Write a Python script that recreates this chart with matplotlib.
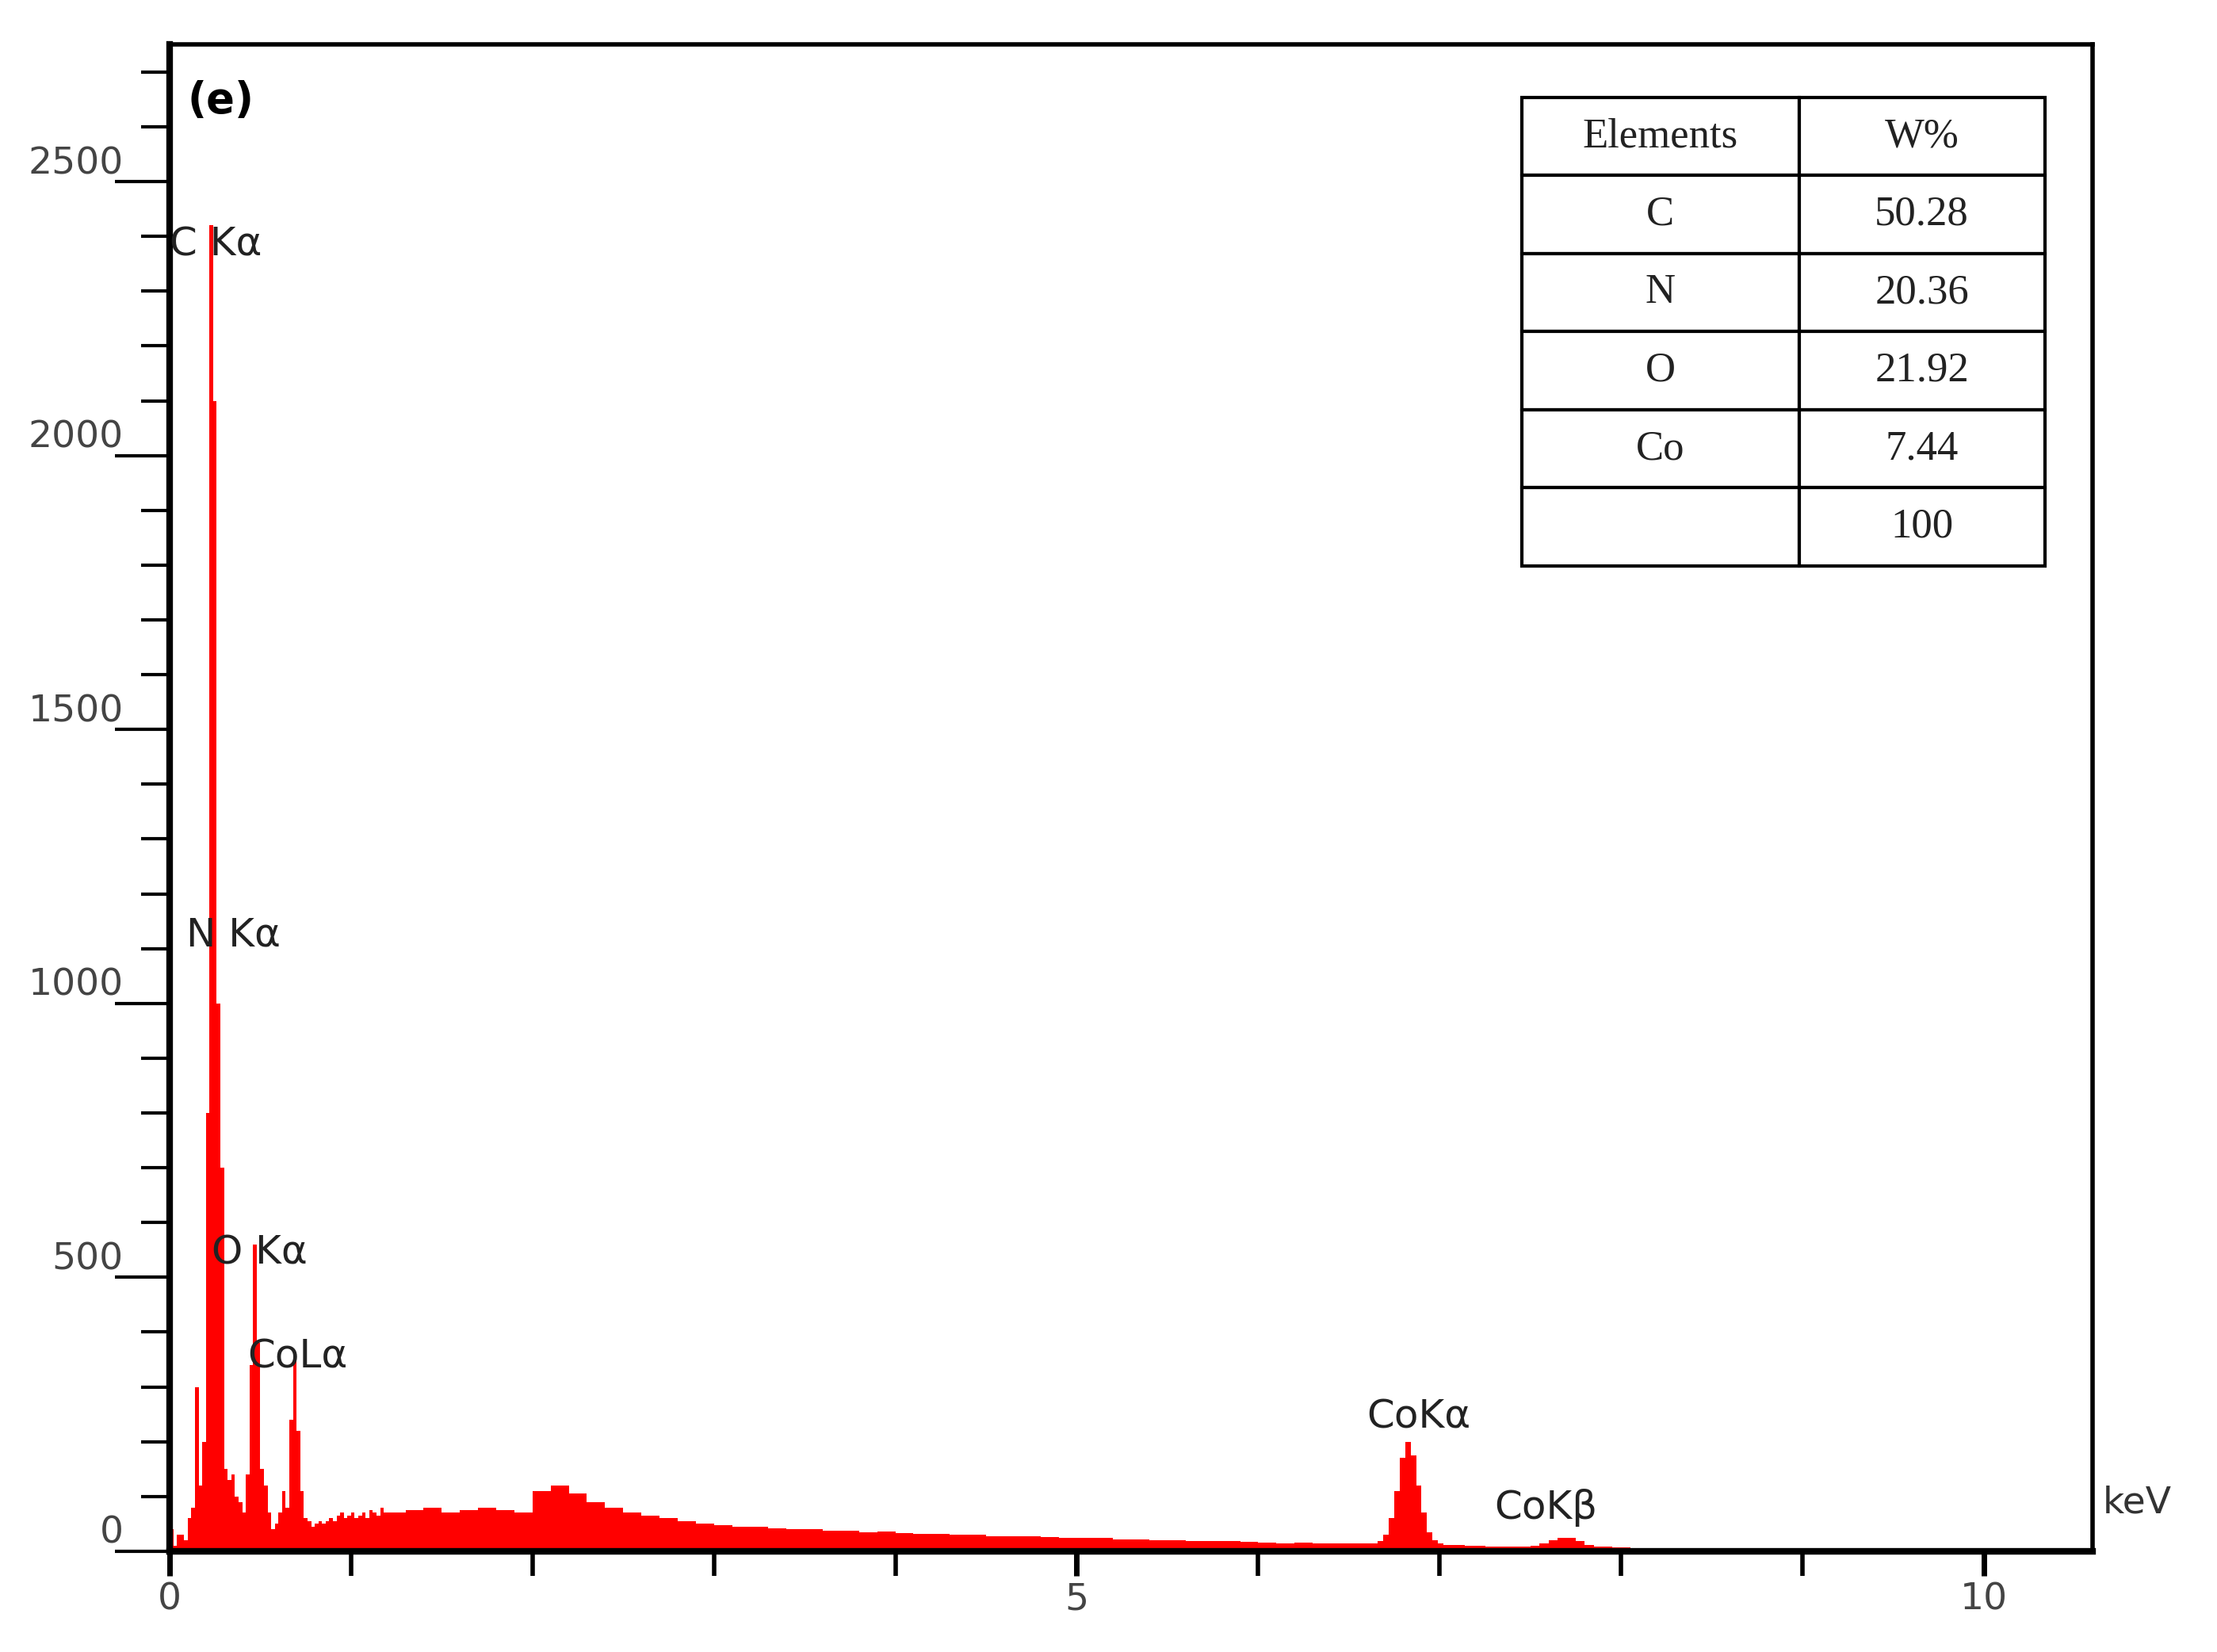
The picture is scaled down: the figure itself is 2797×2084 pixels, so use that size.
import numpy as np
import matplotlib
matplotlib.use("Agg")
import matplotlib.pyplot as plt
from matplotlib.ticker import MultipleLocator

# Low-energy channels (0.00 - 1.18 keV, 0.02 keV steps)
low_start, low_step = 0.0, 0.02
low_counts = [40, 10, 30, 30, 20, 60, 80, 300, 120, 200, 800, 2420, 2100, 1000, 700,
              150, 130, 140, 100, 90, 70, 140, 340, 560, 380, 150, 120, 70, 40, 50,
              70, 110, 80, 240, 360, 220, 110, 60, 55, 45, 50, 55, 50, 55, 60,
              55, 65, 70, 60, 65, 70, 60, 65, 70, 60, 75, 70, 65, 80, 70]
# Mid background (1.2 - 6.6 keV, 0.1 keV steps)
mid_start, mid_step = 1.2, 0.1
mid_counts = [70, 75, 80, 70, 75, 80, 75, 70, 110, 120, 105, 90, 80, 70, 65,
              60, 55, 50, 48, 45, 45, 42, 40, 40, 38, 38, 35, 36, 33, 32,
              32, 30, 30, 28, 27, 28, 26, 25, 24, 25, 22, 22, 20, 20, 19,
              18, 18, 17, 16, 15, 16, 15, 15, 14]
# Co K alpha region (6.6 - 7.2 keV, 0.03 keV steps)
coka_start, coka_step = 6.6, 0.03
coka_counts = [14, 15, 18, 30, 60, 110, 170, 200, 175, 120, 70, 35, 20, 14, 12, 12, 11, 11, 10, 10]
# Tail (7.2 - 10.6 keV, 0.05 keV steps)
tail_start, tail_step = 7.2, 0.05
tail_counts = [10, 9, 9, 8, 8, 9, 10, 14, 20, 25, 24, 18, 12, 9, 8, 7, 7, 6, 6, 6,
               5, 5, 6, 5, 5, 4, 5, 4, 4, 5, 4, 4, 3, 4, 3, 4, 3, 3, 4, 3,
               3, 3, 2, 3, 3, 2, 3, 2, 3, 2, 2, 3, 2, 2, 2, 2, 2, 2, 2, 2,
               2, 2, 2, 2, 2, 2, 2, 2]

peak_labels = ["C K\u03b1", "N K\u03b1", "O K\u03b1", "CoL\u03b1", "CoK\u03b1", "CoK\u03b2"]
peak_label_xy = [(0.0, 2350), (0.09, 1090), (0.23, 510), (0.43, 320), (6.6, 210), (7.3, 45)]

table_elements = ["C", "N", "O", "Co", ""]
table_wpct = ["50.28", "20.36", "21.92", "7.44", "100"]

def seg(start, step, counts):
    e = start + step * np.arange(len(counts) + 1)
    return e, np.array(counts + [counts[-1]], dtype=float)

fig = plt.figure(figsize=(27.97, 20.84), dpi=100)
ax = fig.add_axes([0.0765, 0.061, 0.8675, 0.912])
red = "#ff0000"
for s, st, c in [(low_start, low_step, low_counts), (mid_start, mid_step, mid_counts),
                 (coka_start, coka_step, coka_counts), (tail_start, tail_step, tail_counts)]:
    e, v = seg(s, st, c)
    ax.fill_between(e, 0, v, step="post", color=red, linewidth=0)

ax.set_xlim(0, 10.6)
ax.set_ylim(0, 2750)
ax.xaxis.set_major_locator(MultipleLocator(5))
ax.xaxis.set_minor_locator(MultipleLocator(1))
ax.yaxis.set_major_locator(MultipleLocator(500))
ax.yaxis.set_minor_locator(MultipleLocator(100))
ax.tick_params(axis="y", which="major", direction="out", length=50, width=3, labelsize=34,
               labelcolor="#444444", pad=-8)
ax.tick_params(axis="y", which="minor", direction="out", length=26, width=3)
ax.tick_params(axis="x", which="major", direction="out", length=22, width=5, labelsize=34,
               labelcolor="#444444", pad=6)
ax.tick_params(axis="x", which="minor", direction="out", length=22, width=4)
for lbl in ax.get_yticklabels():
    lbl.set_verticalalignment("bottom")
for side in ["left", "bottom"]:
    ax.spines[side].set_linewidth(6)
for side in ["top", "right"]:
    ax.spines[side].set_linewidth(4)

for t, (x, y) in zip(peak_labels, peak_label_xy):
    ax.text(x, y, t, fontsize=36, color="#222222", va="bottom", ha="left")
ax.text(0.1, 2610, "(e)", fontsize=38, fontweight="bold", va="bottom", ha="left")
ax.text(1.005, 0.02, "keV", transform=ax.transAxes, fontsize=34, color="#333333",
        va="bottom", ha="left")

# Table
cell_text = [["Elements", "W%"]] + [[a, b] for a, b in zip(table_elements, table_wpct)]
tb = ax.table(cellText=cell_text, cellLoc="center",
              bbox=[0.703, 0.654, 0.272, 0.311], colWidths=[0.53, 0.47])
tb.auto_set_font_size(False)
for (r, c), cell in tb.get_celld().items():
    cell.set_linewidth(3)
    cell.get_text().set_fontsize(38)
    cell.get_text().set_fontfamily("Liberation Serif")
    cell.get_text().set_color("#222222")

fig.savefig("out.png", dpi=100, facecolor="white")
